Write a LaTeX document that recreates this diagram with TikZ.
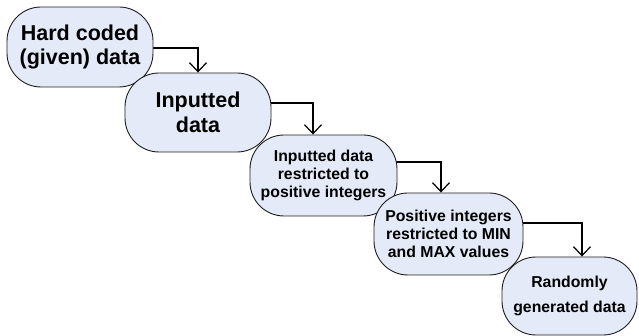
\documentclass[tikz,border=0pt]{standalone}
\usepackage{fontspec}
\setmainfont{Liberation Sans}
\usetikzlibrary{arrows.meta,backgrounds}
\definecolor{boxfill}{RGB}{228,234,247}
\definecolor{boxline}{RGB}{30,30,30}
\tikzset{
  stagebox/.style={draw=boxline, line width=0.9pt, fill=boxfill,
    rounded corners=34pt, align=center, inner sep=0pt},
  bigtext/.style={font=\fontsize{21.5}{24}\selectfont\bfseries},
  smalltext/.style={font=\fontsize{15.8}{18}\selectfont\bfseries},
  conn/.style={draw=black, line width=1.2pt,
    -{Straight Barb[length=9pt,width=17pt,line width=1.2pt]}}
}
\begin{document}
\begin{tikzpicture}[x=1pt,y=-1pt]
  \useasboundingbox (0,0) rectangle (639,336);
  \node[stagebox, bigtext, minimum width=146pt, minimum height=80pt] (b1) at (80,47) {Hard coded\\(given) data};
  \node[stagebox, font=\fontsize{21.5}{25}\selectfont\bfseries, minimum width=146pt, minimum height=79pt] (b2) at (198,112.5) {Inputted\\data};
  \node[stagebox, smalltext, minimum width=147pt, minimum height=81pt] (b3) at (323.5,175.5) {Inputted data\\restricted to\\positive integers};
  \node[stagebox, smalltext, minimum width=149pt, minimum height=82pt] (b4) at (448.5,234) {Positive integers\\restricted to MIN\\and MAX values};
  \node[stagebox, font=\fontsize{15.8}{25}\selectfont\bfseries, minimum width=135pt, minimum height=78pt] (b5) at (569.5,296) {Randomly\\generated data};
  \begin{scope}[on background layer]
    \draw[conn] ([yshift=-1pt]b1.center) -| (b2.north);
    \draw[conn] ([yshift=9.5pt]b2.center) -| ([xshift=-10.5pt]b3.north);
    \draw[conn] ([yshift=13.5pt]b3.center) -| ([xshift=-7.5pt]b4.north);
    \draw[conn] ([yshift=11pt]b4.center) -| ([xshift=12.5pt]b5.north);
  \end{scope}
\end{tikzpicture}
\end{document}
